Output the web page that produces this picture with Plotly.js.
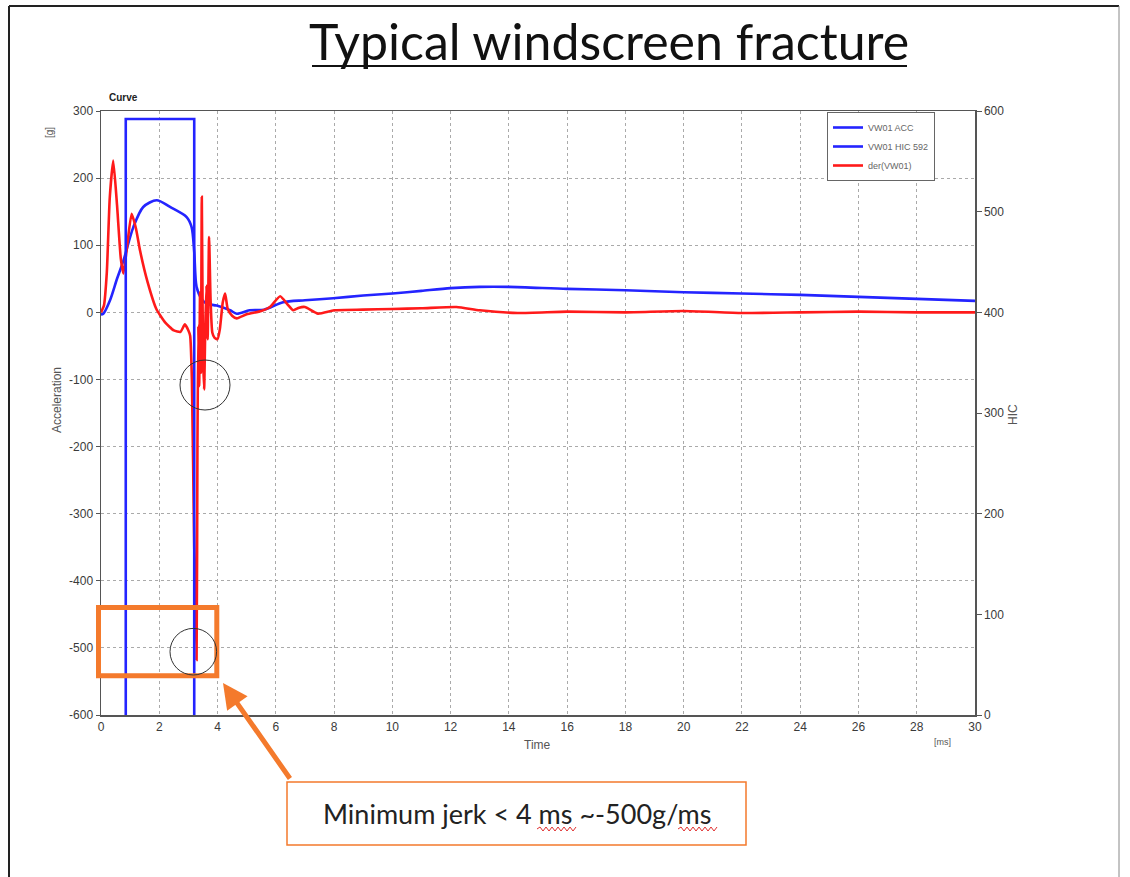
<!DOCTYPE html>
<html>
<head>
<meta charset="utf-8">
<script src="https://cdn.plot.ly/plotly-3.0.1.min.js"></script>
<style>html,body{margin:0;padding:0;background:#fff;}#chart{width:1130px;height:877px;}</style>
</head>
<body>
<div id="chart"></div>
<script>
// ---- data ----
var accTime = [0, 0.08, 0.31, 0.55, 0.77, 1.11, 1.45, 1.91, 2.37, 2.94, 3.11, 3.2, 3.28, 3.45, 3.63, 3.97, 4.43, 4.66, 5.1, 5.6, 6.25, 7.0, 7.97, 9, 10, 11, 12, 13, 14, 16, 18, 20, 22, 24, 26, 28, 30];
var accValues = [-3, -2, 18, 50, 77, 127, 157, 167, 157, 142, 127, 90, 38, 20, 13, 10, 3, -2, 3, 4, 15, 18, 21, 25, 28, 32, 36, 38, 38, 35, 33, 30, 28, 26, 23, 20, 17];

var hicTime = [0.85, 0.85, 3.2, 3.2];
var hicValues = [0, 592, 592, 0];

var derTime = [0, 0.1, 0.2, 0.3, 0.42, 0.55, 0.68, 0.77, 0.9, 1.05, 1.2, 1.34, 1.6, 1.9, 2.2, 2.5, 2.73, 2.88, 3.0, 3.06, 3.12, 3.2, 3.28, 3.31, 3.34, 3.37, 3.40, 3.43, 3.46, 3.50, 3.54, 3.58, 3.62, 3.66, 3.71, 3.76, 3.82, 3.9, 4.0, 4.08, 4.18, 4.26, 4.35, 4.5, 4.66, 5.0, 5.5, 5.8, 6.15, 6.4, 6.6, 6.8, 7.0, 7.45, 8, 9, 10, 11, 12.2, 13, 14.3, 16, 18, 20, 22, 24, 26, 28, 30];
var derValues = [0, 10, 60, 170, 226, 160, 80, 58, 100, 147, 125, 92, 45, 5, -15, -27, -29, -18, -27, -35, -100, -350, -518, -200, -20, -110, 30, -90, 172, -60, -115, -20, 40, -40, 112, 20, -30, -38, -40, -25, 15, 28, 5, -5, -9, -3, 2, 8, 24, 12, 3, 7, 8, -2, 3, 4, 5, 6, 8, 3, -1, 1, 0, 2, -1, 0, 1, 0, 0];

var seriesNames = ["VW01 ACC", "VW01 HIC 592", "der(VW01)"];
var accTicks = [-600, -500, -400, -300, -200, -100, 0, 100, 200, 300];
var accTickText = ["-600", "-500", "-400", "-300", "-200", "-100", "0", "100", "200", "300"];
var hicTicks = [0, 100, 200, 300, 400, 500, 600];
var timeTicks = [0, 2, 4, 6, 8, 10, 12, 14, 16, 18, 20, 22, 24, 26, 28, 30];

// ---- geometry helpers (plot area: x 101..975, y 111..715 px) ----
var L = 101, R = 975, T = 111, B = 715;
function px(X) { return (X - L) / (R - L); }
function py(Y) { return (B - Y) / (B - T); }

var BLUE = "#2424ff", RED = "#ff1a1a", ORANGE = "#f47a2c", GRAY = "#3a3a3a";

var traces = [
  {x: accTime, y: accValues, name: seriesNames[0], type: "scatter", mode: "lines",
   line: {color: BLUE, width: 2.6, shape: "spline", smoothing: 0.8}, yaxis: "y"},
  {x: hicTime, y: hicValues, name: seriesNames[1], type: "scatter", mode: "lines",
   line: {color: BLUE, width: 2.6}, yaxis: "y2"},
  {x: derTime, y: derValues, name: seriesNames[2], type: "scatter", mode: "lines",
   line: {color: RED, width: 2.6, shape: "spline", smoothing: 0.5}, yaxis: "y"}
];

function wavy(x0, x1, y) {
  var s = "M" + px(x0) + "," + py(y);
  var up = true;
  for (var X = x0 + 3; X <= x1; X += 3) {
    s += " L" + px(X) + "," + py(y + (up ? -2 : 2));
    up = !up;
  }
  return s;
}

var shapes = [
  // slide frame
  {type: "line", xref: "paper", yref: "paper", x0: px(9), x1: px(9), y0: py(6), y1: py(877), line: {color: "#222", width: 2}},
  {type: "line", xref: "paper", yref: "paper", x0: px(9), x1: px(1119), y0: py(6), y1: py(6), line: {color: "#222", width: 2}},
  {type: "line", xref: "paper", yref: "paper", x0: px(1119), x1: px(1119), y0: py(6), y1: py(877), line: {color: "#888", width: 1}},
  // title underline
  {type: "line", xref: "paper", yref: "paper", x0: px(312), x1: px(907), y0: py(66), y1: py(66), line: {color: "#111", width: 2}},
  // orange highlight box
  {type: "rect", xref: "paper", yref: "paper", x0: px(98.5), x1: px(216.8), y0: py(675.8), y1: py(607.5), line: {color: ORANGE, width: 5}},
  // circles
  {type: "circle", xref: "paper", yref: "paper", x0: px(180), x1: px(230), y0: py(410), y1: py(360), line: {color: "#333", width: 1}},
  {type: "circle", xref: "paper", yref: "paper", x0: px(170), x1: px(216.6), y0: py(675), y1: py(628.4), line: {color: "#333", width: 1}},
  // text box
  {type: "rect", xref: "paper", yref: "paper", x0: px(287), x1: px(746), y0: py(845), y1: py(782), line: {color: ORANGE, width: 1.5}},
  // spell-check squiggles
  {type: "path", xref: "paper", yref: "paper", path: wavy(537, 577, 829), line: {color: "#e03030", width: 1}},
  {type: "path", xref: "paper", yref: "paper", path: wavy(678, 718, 829), line: {color: "#e03030", width: 1}}
];

var annotations = [
  {xref: "paper", yref: "paper", x: px(609), y: py(41), text: "Typical windscreen fracture", showarrow: false,
   font: {family: "Lato, 'Open Sans', sans-serif", size: 50, color: "#111"}, xanchor: "center", yanchor: "middle"},
  {xref: "paper", yref: "paper", x: px(107), y: py(97), text: "<b>Curve</b>", showarrow: false,
   font: {family: "Liberation Sans, Arial, sans-serif", size: 10, color: "#222"}, xanchor: "left", yanchor: "middle"},
  {xref: "paper", yref: "paper", x: px(42), y: py(125), text: "[g]", textangle: -90, showarrow: false,
   font: {family: "Liberation Sans, Arial, sans-serif", size: 10, color: "#555"}},
  {xref: "paper", yref: "paper", x: px(48), y: py(400), text: "Acceleration", textangle: -90, showarrow: false,
   font: {family: "Liberation Sans, Arial, sans-serif", size: 12, color: "#555"}},
  {xref: "paper", yref: "paper", x: px(1022), y: py(415), text: "HIC", textangle: -90, showarrow: false,
   font: {family: "Liberation Sans, Arial, sans-serif", size: 12, color: "#555"}},
  {xref: "paper", yref: "paper", x: px(537), y: py(754), text: "Time", showarrow: false,
   font: {family: "Liberation Sans, Arial, sans-serif", size: 12, color: "#555"}},
  {xref: "paper", yref: "paper", x: px(953), y: py(749), text: "[ms]", showarrow: false,
   font: {family: "Liberation Sans, Arial, sans-serif", size: 9, color: "#555"}},
  // arrow
  {xref: "paper", yref: "paper", x: px(223), y: py(683), ax: 68, ay: 97, text: "", showarrow: true,
   arrowhead: 2, arrowsize: 1, arrowwidth: 5, arrowcolor: ORANGE},
  // text in box
  {xref: "paper", yref: "paper", x: px(517), y: py(813), text: "Minimum jerk < 4 ms ~-500g/ms", showarrow: false,
   font: {family: "Lato, 'Open Sans', sans-serif", size: 27, color: "#222"}, xanchor: "center", yanchor: "middle"}
];

var axFont = {family: "Liberation Sans, Arial, sans-serif", size: 12, color: GRAY};

var layout = {
  width: 1130, height: 877,
  margin: {l: L, r: 1130 - R, t: T, b: 877 - B, pad: 0},
  paper_bgcolor: "#fff", plot_bgcolor: "#fff",
  showlegend: true,
  legend: {x: px(827), y: py(112), xanchor: "left", yanchor: "top", bgcolor: "#fff",
           bordercolor: "#666", borderwidth: 1, font: {family: "Liberation Sans, Arial, sans-serif", size: 9, color: "#666"},
           tracegroupgap: 0},
  xaxis: {range: [0, 30], tickvals: timeTicks, showgrid: true, gridcolor: "#aaa", griddash: "dot", gridwidth: 1,
          showline: true, linecolor: "#555", linewidth: 1.5, mirror: true, ticks: "", zeroline: false,
          tickfont: axFont},
  yaxis: {range: [-600, 300], tickvals: accTicks, ticktext: accTickText, showgrid: true, gridcolor: "#aaa",
          griddash: "dot", gridwidth: 1, showline: true, linecolor: "#555", linewidth: 1.5, ticks: "outside",
          ticklen: 4, tickcolor: "#555", zeroline: false, tickfont: axFont},
  yaxis2: {range: [0, 600], tickvals: hicTicks, overlaying: "y", side: "right", showgrid: false, zeroline: false,
           showline: true, linecolor: "#555", linewidth: 1.5, ticks: "outside", ticklen: 5, tickcolor: "#555",
           tickfont: axFont},
  shapes: shapes,
  annotations: annotations
};

Plotly.newPlot("chart", traces, layout, {staticPlot: true, displayModeBar: false});
</script>
</body>
</html>
